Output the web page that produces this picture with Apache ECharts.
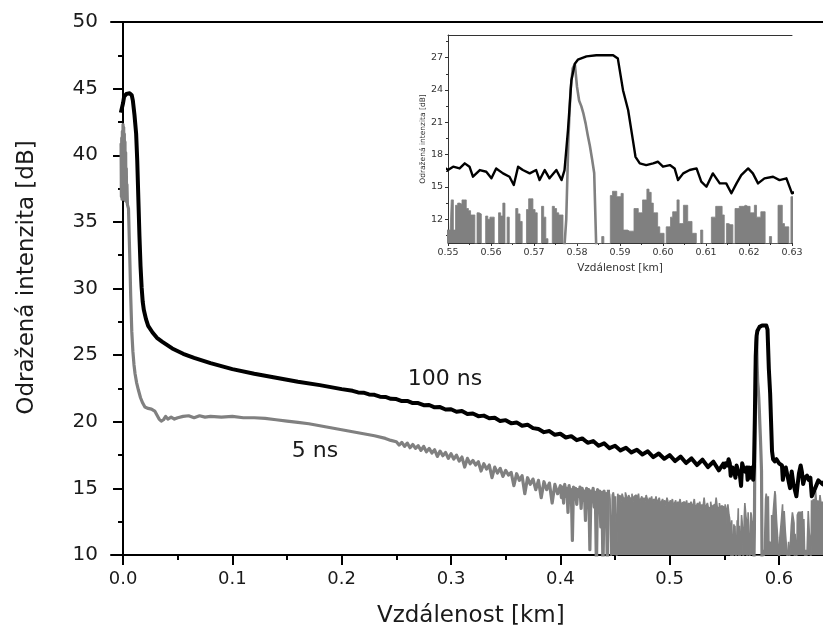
<!DOCTYPE html>
<html>
<head>
<meta charset="utf-8">
<script src="https://cdn.jsdelivr.net/npm/echarts@6/dist/echarts.min.js"></script>
<style>
html,body{margin:0;padding:0;background:#fff;}
#chart{width:823px;height:638px;}
</style>
</head>
<body>
<div id="chart"></div>
<script>
// ---------- data ----------
const xTickValues = [0, 0.1, 0.2, 0.3, 0.4, 0.5, 0.6];
const xMinorValues = [0.05, 0.15, 0.25, 0.35, 0.45, 0.55, 0.65];
const insetXTickValues = [0.55, 0.56, 0.57, 0.58, 0.59, 0.60, 0.61, 0.62, 0.63];
const insetXMinorValues = [0.555, 0.565, 0.575, 0.585, 0.595, 0.605, 0.615, 0.625];
const insetYTickValues = [12, 15, 18, 21, 24, 27];
const insetYMinorValues = [10.5, 13.5, 16.5, 19.5, 22.5, 25.5, 28.5];
const seriesNames = ['100 ns', '5 ns'];

// 100 ns trace: [distance km, dB]
const trace100ns = [
[-0.002,43.2],[-0.001,43.3],[0.000,43.9],[0.001,44.4],[0.003,44.6],[0.006,44.65],[0.008,44.5],[0.009,44.1],
[0.0105,43.0],[0.012,41.6],[0.013,39.6],[0.014,36.8],[0.015,34.0],[0.016,31.7],[0.017,30.1],[0.018,29.0],
[0.019,28.4],[0.021,27.7],[0.023,27.2],[0.027,26.7],[0.031,26.3],[0.036,26.0],[0.045,25.5],[0.055,25.1],
[0.065,24.8],[0.08,24.4],[0.1,23.95],[0.12,23.6],[0.14,23.3],[0.16,23.0],[0.18,22.75],[0.2,22.45],
[0.21,22.32],[0.215,22.2],[0.22,22.18],[0.225,22.05],[0.23,22.02],[0.235,21.88],[0.24,21.86],[0.245,21.72],
[0.25,21.7],[0.255,21.55],[0.26,21.56],[0.265,21.4],[0.27,21.4],[0.275,21.24],[0.28,21.26],[0.285,21.08],
[0.29,21.1],[0.295,20.92],[0.3,20.94],[0.305,20.75],[0.31,20.8],[0.315,20.58],[0.32,20.62],[0.325,20.42],
[0.33,20.46],[0.335,20.26],[0.34,20.3],[0.345,20.05],[0.35,20.12],[0.355,19.88],[0.36,19.95],[0.365,19.7],
[0.37,19.78],[0.375,19.52],[0.38,19.45],[0.385,19.22],[0.39,19.3],[0.395,19.02],[0.4,19.1],[0.405,18.82],
[0.41,18.92],[0.415,18.62],[0.42,18.75],[0.425,18.42],[0.43,18.55],[0.435,18.2],[0.44,18.38],[0.445,18.02],
[0.45,18.2],[0.455,17.85],[0.46,18.05],[0.465,17.7],[0.47,17.9],[0.475,17.55],[0.48,17.78],[0.485,17.35],
[0.49,17.62],[0.495,17.22],[0.5,17.5],[0.505,17.05],[0.51,17.38],[0.515,16.9],[0.52,17.25],[0.525,16.75],
[0.53,17.15],[0.535,16.6],[0.54,17.0],[0.545,16.35],[0.549,16.85],
[0.55,16.57],[0.5512,16.88],[0.5527,16.72],[0.5539,17.19],[0.555,16.88],[0.5558,15.95],[0.5574,16.57],
[0.5589,16.41],[0.5601,15.80],[0.5612,16.72],[0.5628,16.26],[0.5643,15.95],[0.5653,15.18],[0.5663,16.88],
[0.5674,16.57],[0.569,16.26],[0.5705,16.57],[0.5713,15.64],[0.5725,16.57],[0.5736,15.80],[0.5752,16.57],
[0.5764,15.64],[0.5771,16.57],[0.5779,20.27],[0.5787,24.90],[0.5795,26.44],[0.5802,26.81],[0.5822,27.12],
[0.5845,27.22],[0.5884,27.22],[0.5895,26.91],[0.5907,23.98],[0.5919,22.12],[0.593,19.35],[0.5936,17.80],
[0.5946,17.19],[0.5961,17.03],[0.5977,17.19],[0.5988,17.34],[0.6,16.88],[0.6016,17.03],[0.6027,16.72],
[0.6035,15.64],[0.6047,16.26],[0.6062,16.57],[0.6078,16.72],[0.6089,15.49],[0.6101,15.02],[0.6116,16.26],
[0.6132,15.33],[0.6147,15.33],[0.6159,14.41],[0.6171,15.33],[0.6182,16.10],[0.6198,16.72],[0.6209,16.26],
[0.6221,15.33],[0.6236,15.80],[0.6256,15.95],[0.6271,15.64],[0.6287,15.80],[0.63,14.41],
[0.633,15.0],[0.636,15.6],[0.64,15.3],[0.645,16.0],[0.65,15.6],[0.66,15.8]
];

// 5 ns trace, smooth and moderately noisy part: [distance km, dB]
const trace5nsHead = [
[-0.0018,40.9],[-0.0015,36.9],[-0.0012,41.3],[-0.0009,36.7],[-0.0006,41.8],[-0.0003,36.8],[0.0,42.3],
[0.0003,36.7],[0.0006,42.1],[0.0009,36.8],[0.0012,41.6],[0.0015,36.7],[0.0018,41.0],[0.0021,36.6],
[0.0024,40.2],[0.0027,36.6],[0.003,39.0],[0.0033,36.5],[0.0036,37.8],[0.004,36.3],[0.005,36.0],[0.0058,33.5],
[0.0064,31.6],[0.007,29.5],[0.008,26.8],[0.009,25.3],[0.01,24.3],[0.011,23.6],[0.0125,22.9],[0.014,22.4],
[0.016,21.8],[0.018,21.4],[0.02,21.1],[0.023,21.0],[0.026,20.95],[0.029,20.8],[0.031,20.5],[0.033,20.2],
[0.035,20.05],[0.037,20.15],[0.039,20.4],[0.041,20.2],[0.044,20.35],[0.047,20.2],[0.05,20.3],[0.055,20.4],
[0.06,20.45],[0.065,20.3],[0.07,20.45],[0.075,20.35],[0.08,20.4],[0.09,20.35],[0.1,20.4],[0.11,20.3],
[0.12,20.3],[0.13,20.25],[0.14,20.15],[0.15,20.05],[0.16,19.95],[0.17,19.85],[0.18,19.7],[0.19,19.55],
[0.2,19.4],[0.21,19.25],[0.22,19.1],[0.23,18.95],[0.24,18.75],[0.245,18.6],
[0.25,18.5],[0.2525,18.25],[0.255,18.45],[0.2575,18.15],[0.26,18.4],[0.2625,18.05],[0.265,18.3],[0.2675,18.0],
[0.27,18.2],[0.2725,17.85],[0.275,18.15],[0.2775,17.75],[0.28,18.0],[0.2825,17.65],[0.285,17.9],[0.2875,17.4],
[0.29,17.8],[0.2925,17.45],[0.295,17.7],[0.2975,17.25],[0.3,17.6],[0.3025,17.2],[0.305,17.5],[0.3075,17.05],
[0.31,17.35],[0.3125,16.6],[0.315,17.25],[0.3175,16.85],[0.32,17.1],[0.3225,16.75],[0.325,17.0],[0.3275,16.3],
[0.33,16.85],[0.3325,16.45],[0.335,16.75],[0.3375,15.8],[0.34,16.6],[0.3425,16.15],[0.345,16.5],[0.3475,15.9],
[0.35,16.35],[0.3525,16.0],[0.355,16.2],[0.3575,15.2],[0.36,16.1],[0.3625,15.6],[0.365,15.95],[0.3675,14.6],
[0.37,15.8],[0.3725,15.3],[0.375,15.7],[0.3775,14.9],[0.38,15.6],[0.3825,14.3],[0.385,15.5],[0.3875,14.9],
[0.39,15.4],[0.3925,13.9],[0.395,15.3],[0.3975,14.6]
];
// 5 ns spiky part sampled every 1 m from 0.400 km (values below 10 dB fall off the axis)
const spikyStart = 0.400, spikyStep = 0.001;
const trace5nsSpiky = [
15.2,14.3,15.1,13.9,15.3,14.4,15.0,13.2,15.2,14.6,
14.9,11.1,15.1,14.2,15.0,13.8,14.9,14.4,15.1,13.5,
15.0,14.1,14.8,12.6,15.0,13.9,14.9,10.4,14.8,14.0,
15.0,13.6,14.7,9.0,14.9,13.2,14.8,12.1,14.7,9.0,
14.8,13.0,14.6,9.0,14.9
];
// 5 ns reflection peak: [distance km, dB]
const trace5nsPeak = [
[0.577,9],[0.5775,12.0],[0.578,19.5],[0.5785,24.0],[0.579,26.0],[0.5795,26.4],[0.58,24.3],[0.5805,23.0],
[0.581,22.5],[0.5815,21.8],[0.582,20.9],[0.5825,19.8],[0.583,18.8],[0.5835,17.6],[0.584,16.3],[0.5845,9]
];
// 5 ns noise floor: upper edge of the noise band (9 = band below the axis)
const floor1Start = 0.445, floor1Step = 0.001;
const trace5nsFloor1 = [
14.6,14.2,9,14.5,14.7,14.1,14.4,9,14.6,14.3,
14.5,14.0,14.6,14.3,14.2,14.7,14.4,14.1,14.5,14.3,
14.2,14.6,14.0,14.4,14.5,14.1,14.3,14.6,13.9,14.2,
14.4,14.1,14.3,14.0,14.5,14.2,13.9,14.3,14.1,14.4,
13.8,14.2,14.0,14.4,13.9,14.1,14.3,13.8,14.0,14.2,
13.9,14.1,13.7,14.3,14.0,13.8,14.1,13.9,14.2,13.7,
13.9,14.1,13.6,14.0,13.8,14.2,13.7,13.9,14.0,13.6,
13.8,14.1,13.5,13.9,13.7,14.0,13.6,13.8,14.2,13.5,
13.7,13.9,13.6,14.0,13.4,13.8,13.6,14.3,13.5,13.7,
13.9,13.5,13.6,14.0,13.4,13.7,13.8,13.5,14.3,13.6,
13.5,13.9,13.4,13.7,13.6
];
const floor2Start = 0.550, floor2Step = 0.0005;
const trace5nsFloor2 = [
11.0,11.0,13.8,11.0,13.3,13.5,13.4,13.8,13.8,13.0,12.8,12.4,12.4,9,12.6,12.5,9,9,12.3,12.0,
12.2,12.2,9,9,12.6,12.3,13.5,9,12.2,9,9,9,13.0,12.5,11.8,9,9,12.9,13.9,13.9,
12.9,12.6,9,9,13.2,12.2,10.2,9,9,13.2,13.0,12.6,12.4,12.4,9,9,9,9,9,9,
9,9,9,9,9,9,9,9,9,9,9,9,10.4,9,9,9,14.2,14.6,14.6,14.1,
14.1,14.4,11.0,11.0,10.9,10.9,10.9,13.0,13.0,12.6,12.6,13.8,13.8,14.8,14.5,13.5,12.6,12.6,11.3,10.7,
10.7,9,11.3,11.3,12.2,12.7,12.7,13.8,11.6,11.6,13.3,13.3,11.8,11.8,10.7,10.7,9,9,11.0,9,
9,9,9,12.2,12.2,13.2,13.2,13.2,12.4,9,11.6,11.5,11.5,9,13.0,13.0,13.2,13.2,13.3,13.2,
13.2,12.6,12.6,13.3,12.2,12.2,12.7,12.7,9,9,10.4,9,9,9,13.3,13.3,11.6,11.3,11.3,9,
14.1
];
// sampled every 1 m from 0.631 km
const floor3Start = 0.631, floor3Step = 0.001;
const trace5nsFloor3 = [
13.9,14.2,13.5,14.8,13.7,14.1,13.4,14.5,13.8,14.0,13.6,14.3,13.9,13.5,14.1,
13.8,14.4,13.6,14.0,13.7,14.2,13.5,13.9,14.1,13.6,14.0,13.8,14.3,13.7,14.0
];

// ---------- build ----------
function sampled(start, step, values) {
  return values.map((v, i) => [+(start + i * step).toFixed(5), v]);
}
const trace5nsLine = trace5nsHead
  .concat(sampled(spikyStart, spikyStep, trace5nsSpiky))
  .concat([[0.5, null]])          // break: the floor part is drawn by the band series
  .concat(trace5nsPeak);
const trace5nsBand = sampled(floor1Start, floor1Step, trace5nsFloor1)
  .concat(sampled(floor2Start, floor2Step, trace5nsFloor2))
  .concat(sampled(floor3Start, floor3Step, trace5nsFloor3));

const FONT = 'DejaVu Sans';
const INK = '#1a1a1a';
const GRAY = '#808080';

const chart = echarts.init(document.getElementById('chart'), null, {renderer: 'canvas'});

const mainAxisLine = {show: true, lineStyle: {color: '#000', width: 2}};
const insetAxisLine = {show: true, lineStyle: {color: '#333', width: 1}};

const option = {
  animation: false,
  backgroundColor: '#fff',
  grid: [
    {left: 111, top: 22, width: 733.6, height: 533, containLabel: false, outerBoundsMode: 'none'},
    {left: 448, top: 35, width: 344, height: 208, containLabel: false, outerBoundsMode: 'none'}
  ],
  xAxis: [
    { // 0 main, labelled ticks
      gridIndex: 0, type: 'value', min: -0.011, max: 0.66, position: 'bottom',
      axisLine: mainAxisLine,
      axisTick: {show: true, inside: false, length: 10, customValues: xTickValues, lineStyle: {color: '#000', width: 2}},
      axisLabel: {show: true, customValues: xTickValues, formatter: v => v.toFixed(1), margin: 15,
                  fontFamily: FONT, fontSize: 18, color: INK},
      splitLine: {show: false},
      name: 'Vzdálenost [km]', nameLocation: 'middle', nameGap: 50,
      nameTextStyle: {fontFamily: FONT, fontSize: 23, color: INK, padding: [0, 14, 0, 0]}
    },
    { // 1 main, minor ticks
      gridIndex: 0, type: 'value', min: -0.011, max: 0.66, position: 'bottom',
      axisLine: {show: false},
      axisTick: {show: true, inside: false, length: 5, customValues: xMinorValues, lineStyle: {color: '#000', width: 2}},
      axisLabel: {show: false}, splitLine: {show: false}
    },
    { // 2 main, top frame
      gridIndex: 0, type: 'value', min: -0.011, max: 0.66, position: 'top',
      axisLine: mainAxisLine, axisTick: {show: false}, axisLabel: {show: false}, splitLine: {show: false}
    },
    { // 3 inset, labelled ticks
      gridIndex: 1, type: 'value', min: 0.55, max: 0.63, position: 'bottom',
      axisLine: insetAxisLine,
      axisTick: {show: true, inside: false, length: 3, customValues: insetXTickValues, lineStyle: {color: '#333'}},
      axisLabel: {show: true, customValues: insetXTickValues, formatter: v => v.toFixed(2), margin: 5,
                  fontFamily: FONT, fontSize: 9.5, color: '#333'},
      splitLine: {show: false},
      name: 'Vzdálenost [km]', nameLocation: 'middle', nameGap: 20,
      nameTextStyle: {fontFamily: FONT, fontSize: 10.5, color: '#333'}
    },
    { // 4 inset, minor ticks
      gridIndex: 1, type: 'value', min: 0.55, max: 0.63, position: 'bottom',
      axisLine: {show: false},
      axisTick: {show: true, inside: false, length: 2, customValues: insetXMinorValues, lineStyle: {color: '#333'}},
      axisLabel: {show: false}, splitLine: {show: false}
    },
    { // 5 inset, top frame
      gridIndex: 1, type: 'value', min: 0.55, max: 0.63, position: 'top',
      axisLine: insetAxisLine, axisTick: {show: false}, axisLabel: {show: false}, splitLine: {show: false}
    }
  ],
  yAxis: [
    { // 0 main
      gridIndex: 0, type: 'value', min: 10, max: 50, interval: 5, position: 'left',
      axisLine: mainAxisLine,
      axisTick: {show: true, inside: false, length: 10, lineStyle: {color: '#000', width: 2}},
      minorTick: {show: true, splitNumber: 2, length: 5, lineStyle: {color: '#000', width: 2}},
      axisLabel: {show: true, margin: 13, fontFamily: FONT, fontSize: 20, color: INK},
      splitLine: {show: false},
      name: 'Odražená intenzita [dB]', nameLocation: 'middle', nameGap: 72, nameRotate: 90,
      nameTextStyle: {fontFamily: FONT, fontSize: 23, color: INK, padding: [0, 0, 0, 22]}
    },
    { // 1 inset, labelled ticks
      gridIndex: 1, type: 'value', min: 9.8, max: 29.1, position: 'left',
      axisLine: insetAxisLine,
      axisTick: {show: true, inside: false, length: 3, customValues: insetYTickValues, lineStyle: {color: '#333'}},
      axisLabel: {show: true, customValues: insetYTickValues, margin: 5, fontFamily: FONT, fontSize: 9.5, color: '#333'},
      splitLine: {show: false},
      name: 'Odražená intenzita [dB]', nameLocation: 'middle', nameGap: 19, nameRotate: 90,
      nameTextStyle: {fontFamily: FONT, fontSize: 7.5, color: '#333'}
    },
    { // 2 inset, minor ticks
      gridIndex: 1, type: 'value', min: 9.8, max: 29.1, position: 'left',
      axisLine: {show: false},
      axisTick: {show: true, inside: false, length: 2, customValues: insetYMinorValues, lineStyle: {color: '#333'}},
      axisLabel: {show: false}, splitLine: {show: false}
    }
  ],
  series: [
    { // 5 ns noise band, main plot
      name: seriesNames[1] + ' band', type: 'line', xAxisIndex: 0, yAxisIndex: 0, data: trace5nsBand,
      step: 'middle', showSymbol: false, symbol: 'none', clip: true, z: 2,
      lineStyle: {color: GRAY, width: 1.6},
      areaStyle: {color: GRAY, opacity: 1, origin: 'start'}
    },
    {
      name: seriesNames[1], type: 'line', xAxisIndex: 0, yAxisIndex: 0, data: trace5nsLine,
      showSymbol: false, symbol: 'none', clip: true, z: 2, connectNulls: false,
      lineStyle: {color: GRAY, width: 3.2, join: 'round'},
      markPoint: {symbol: 'circle', symbolSize: 0, silent: true,
        label: {show: true, position: 'inside', formatter: seriesNames[1], fontFamily: FONT, fontSize: 22, color: INK},
        data: [{coord: [0.1756, 17.8]}]}
    },
    {
      name: seriesNames[0], type: 'line', xAxisIndex: 0, yAxisIndex: 0, data: trace100ns,
      showSymbol: false, symbol: 'none', clip: true, z: 3,
      lineStyle: {color: '#000', width: 4, join: 'round'},
      markPoint: {symbol: 'circle', symbolSize: 0, silent: true,
        label: {show: true, position: 'inside', formatter: seriesNames[0], fontFamily: FONT, fontSize: 22, color: INK},
        data: [{coord: [0.2945, 23.2]}]}
    },
    { // inset
      name: seriesNames[1] + ' band (detail)', type: 'line', xAxisIndex: 3, yAxisIndex: 1, data: trace5nsBand,
      step: 'middle', showSymbol: false, symbol: 'none', clip: true, z: 4,
      lineStyle: {color: GRAY, width: 0.8},
      areaStyle: {color: GRAY, opacity: 1, origin: 'start'}
    },
    {
      name: seriesNames[1] + ' (detail)', type: 'line', xAxisIndex: 3, yAxisIndex: 1, data: trace5nsLine,
      showSymbol: false, symbol: 'none', clip: true, z: 4, connectNulls: false,
      lineStyle: {color: GRAY, width: 2.6, join: 'round'}
    },
    {
      name: seriesNames[0] + ' (detail)', type: 'line', xAxisIndex: 3, yAxisIndex: 1, data: trace100ns,
      showSymbol: false, symbol: 'none', clip: true, z: 5,
      lineStyle: {color: '#000', width: 2.4, join: 'round'}
    }
  ]
};
chart.setOption(option);
</script>
</body>
</html>
